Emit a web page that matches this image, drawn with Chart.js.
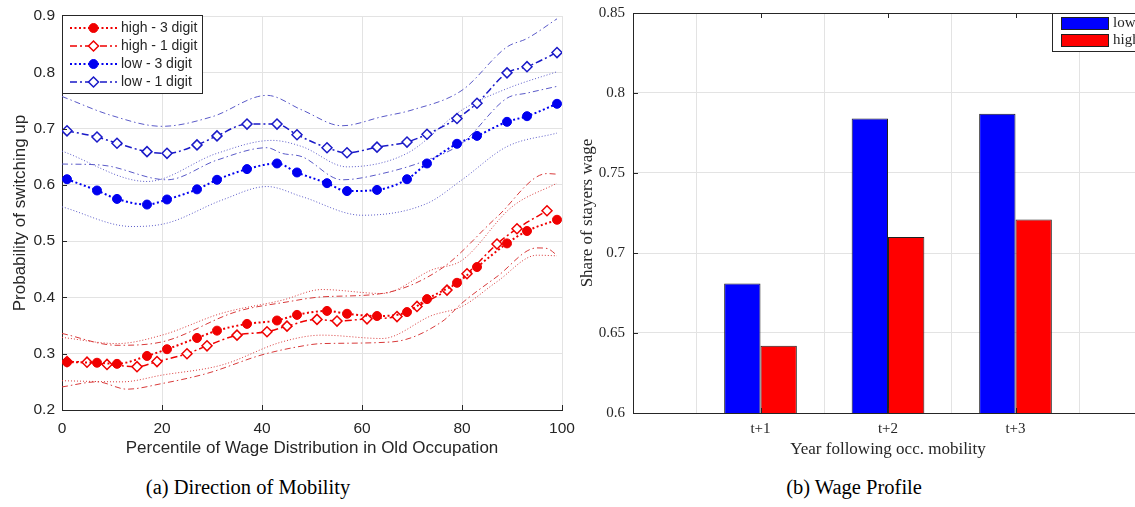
<!DOCTYPE html>
<html>
<head>
<meta charset="utf-8">
<script src="https://cdn.jsdelivr.net/npm/chart.js@4/dist/chart.umd.min.js"></script>
<style>
  html, body { margin: 0; padding: 0; background: #fff; width: 1135px; height: 507px; overflow: hidden; position: relative; }
  #panelA { position: absolute; left: 0; top: 0; }
  #panelB { position: absolute; left: 570px; top: 0; }
  .cap { position: absolute; top: 475px; line-height: 24px; font-family: "Liberation Serif", "Times New Roman", serif;
         font-size: 20.5px; color: #000; white-space: nowrap; transform: translateX(-50%); }
</style>
</head>
<body>
<canvas id="panelA" width="582" height="465"></canvas>
<canvas id="panelB" width="590" height="465"></canvas>
<div class="cap" style="left:248px">(a) Direction of Mobility</div>
<div class="cap" style="left:854px">(b) Wage Profile</div>

<script>
// ---------- Panel (a): probability of switching up by wage percentile ----------
const pctTicks = [0, 20, 40, 60, 80, 100];
const pctTickLabels = ['0', '20', '40', '60', '80', '100'];
const probTicks = [0.2, 0.3, 0.4, 0.5, 0.6, 0.7, 0.8, 0.9];
const probTickLabels = ['0.2', '0.3', '0.4', '0.5', '0.6', '0.7', '0.8', '0.9'];

// point estimates (marker positions)
const pctHigh3 = [1, 7, 11, 17, 21, 27, 31, 37, 43, 47, 53, 57, 63, 69, 73, 79, 83, 89, 93, 99];
const high3 = [0.285, 0.284, 0.282, 0.296, 0.308, 0.328, 0.341, 0.353, 0.359, 0.369, 0.376, 0.371, 0.367, 0.374, 0.397, 0.426, 0.454, 0.496, 0.518, 0.538];
const pctHigh1 = [1, 5, 9, 15, 19, 25, 29, 35, 41, 45, 51, 55, 61, 67, 71, 77, 81, 87, 91, 97];
const high1 = [0.286, 0.285, 0.281, 0.277, 0.286, 0.300, 0.314, 0.333, 0.339, 0.349, 0.361, 0.358, 0.362, 0.366, 0.384, 0.413, 0.442, 0.495, 0.522, 0.554];
const pctLow = [1, 7, 11, 17, 21, 27, 31, 37, 43, 47, 53, 57, 63, 69, 73, 79, 83, 89, 93, 99];
const low3 = [0.610, 0.590, 0.575, 0.565, 0.574, 0.592, 0.609, 0.628, 0.638, 0.622, 0.603, 0.589, 0.591, 0.610, 0.638, 0.673, 0.687, 0.712, 0.722, 0.744];
const low1 = [0.696, 0.685, 0.674, 0.659, 0.656, 0.671, 0.687, 0.708, 0.708, 0.689, 0.666, 0.657, 0.667, 0.676, 0.690, 0.718, 0.745, 0.799, 0.810, 0.835];

// confidence bands
const low1UpX = [0, 10, 20, 30, 41, 48, 56, 64, 70, 80, 89, 93, 99];
const low1Up = [0.757, 0.723, 0.704, 0.721, 0.759, 0.733, 0.705, 0.721, 0.733, 0.768, 0.845, 0.860, 0.895];
const low1LoX = [0, 8, 21, 31, 41, 44, 48, 56, 64, 73, 80, 89, 93, 99];
const low1Lo = [0.637, 0.635, 0.609, 0.644, 0.666, 0.656, 0.650, 0.609, 0.620, 0.644, 0.674, 0.754, 0.763, 0.775];
const low3UpX = [0, 17, 31, 42, 48, 57, 69, 80, 89, 99];
const low3Up = [0.660, 0.606, 0.656, 0.679, 0.668, 0.632, 0.656, 0.733, 0.771, 0.801];
const low3LoX = [0, 14, 21, 32, 41, 48, 60, 73, 80, 89, 99];
const low3Lo = [0.561, 0.526, 0.532, 0.573, 0.597, 0.579, 0.546, 0.567, 0.609, 0.668, 0.692];
const high1UpX = [0, 11, 20, 35, 45, 52, 64, 76, 87, 97, 99];
const high1Up = [0.336, 0.315, 0.321, 0.375, 0.392, 0.401, 0.407, 0.452, 0.543, 0.620, 0.619];
const high1LoX = [0, 7, 13, 20, 29, 40, 47, 52, 66, 76, 80, 87, 95, 97, 99];
const high1Lo = [0.241, 0.250, 0.237, 0.247, 0.265, 0.298, 0.312, 0.318, 0.321, 0.357, 0.390, 0.437, 0.488, 0.487, 0.475];
const high3UpX = [0, 11, 20, 32, 44, 52, 64, 74, 80, 90, 99];
const high3Up = [0.329, 0.318, 0.333, 0.372, 0.395, 0.414, 0.407, 0.449, 0.466, 0.561, 0.603];
const high3LoX = [0, 12, 20, 32, 44, 52, 64, 74, 80, 87, 95, 99];
const high3Lo = [0.252, 0.250, 0.262, 0.280, 0.321, 0.333, 0.327, 0.368, 0.384, 0.428, 0.475, 0.474];

// ---------- Panel (b): wage relative to stayers ----------
const yearLabels = ['t+1', 't+2', 't+3'];
const shareLow = [0.681, 0.784, 0.787];
const shareHigh = [0.642, 0.710, 0.721];
const shareTicks = [0.6, 0.65, 0.7, 0.75, 0.8, 0.85];
const shareTickLabels = ['0.6', '0.65', '0.7', '0.75', '0.8', '0.85'];

// ---------- helpers ----------
const AXIS = '#262626';
const GRID = '#e3e3e3';
const SANS = '"Liberation Sans", Arial, sans-serif';
const SERIF = '"Liberation Serif", "Times New Roman", serif';

const pts = (xs, ys) => xs.map((x, i) => ({ x, y: ys[i] }));

function series(label, xs, ys, st) {
  return Object.assign({ label, data: pts(xs, ys), fill: false, cubicInterpolationMode: 'monotone' }, st);
}
function band(xs, ys, color, dash) {
  return { data: pts(xs, ys), borderColor: color, borderWidth: 1, borderDash: dash, pointRadius: 0,
           fill: false, cubicInterpolationMode: 'monotone' };
}

function marker(ctx, style, x, y, r, fill, stroke, lw) {
  ctx.beginPath();
  if (style === 'circle') ctx.arc(x, y, r, 0, Math.PI * 2);
  else { ctx.moveTo(x - r, y); ctx.lineTo(x, y - r); ctx.lineTo(x + r, y); ctx.lineTo(x, y + r); ctx.closePath(); }
  ctx.fillStyle = fill; ctx.fill();
  ctx.setLineDash([]); ctx.lineWidth = lw; ctx.strokeStyle = stroke; ctx.stroke();
}

// inward tick marks and optional top/right frame lines
const innerTicks = {
  id: 'innerTicks',
  afterDraw(chart, args, o) {
    const { ctx, chartArea: a, scales } = chart;
    const len = o.length || 5;
    ctx.save();
    ctx.strokeStyle = AXIS; ctx.lineWidth = 1; ctx.setLineDash([]);
    const seg = (x1, y1, x2, y2) => { ctx.beginPath(); ctx.moveTo(x1, y1); ctx.lineTo(x2, y2); ctx.stroke(); };
    const xs = scales.x, ys = scales.y;
    xs.ticks.forEach((t, i) => {
      if (o.skipBlank && !xs.getLabelForValue(t.value)) return;
      const p = Math.round(xs.getPixelForTick(i)) + 0.5;
      seg(p, a.bottom, p, a.bottom - len);
      if (o.frame) seg(p, a.top, p, a.top + len);
    });
    ys.ticks.forEach((t, i) => {
      const p = Math.round(ys.getPixelForTick(i)) + 0.5;
      seg(a.left, p, a.left + len, p);
      if (o.frame) seg(a.right, p, a.right - len, p);
    });
    if (o.frame) {
      seg(a.left, Math.round(a.top) + 0.5, a.right, Math.round(a.top) + 0.5);
      seg(Math.round(a.right) + 0.5, a.top, Math.round(a.right) + 0.5, a.bottom);
    }
    ctx.restore();
  }
};

// legend boxes drawn inside the plot area
const boxLegend = {
  id: 'boxLegend',
  afterDraw(chart, args, o) {
    const { ctx, chartArea: a } = chart;
    const items = chart.data.datasets.filter(d => d.label);
    const bx = o.anchor === 'right' ? a.right - o.offsetX : a.left + o.offsetX;
    const by = a.top + o.offsetY;
    ctx.save();
    ctx.fillStyle = '#fff';
    ctx.fillRect(bx, by, o.width, o.height);
    ctx.strokeStyle = AXIS; ctx.lineWidth = 1; ctx.setLineDash([]);
    ctx.strokeRect(Math.round(bx) + 0.5, Math.round(by) + 0.5, o.width, o.height);
    ctx.font = o.font;
    ctx.textBaseline = 'middle';
    ctx.textAlign = 'left';
    items.forEach((d, i) => {
      const y = by + o.firstRow + i * o.rowGap;
      const x0 = bx + o.sampleX, x1 = x0 + o.sampleW;
      if (o.kind === 'bar') {
        ctx.fillStyle = d.backgroundColor;
        ctx.fillRect(x0, y - 6, o.sampleW, 12);
        ctx.strokeStyle = d.borderColor; ctx.lineWidth = 1;
        ctx.strokeRect(x0 + 0.5, y - 6 + 0.5, o.sampleW, 12);
      } else {
        ctx.strokeStyle = d.borderColor; ctx.lineWidth = d.borderWidth;
        ctx.setLineDash(d.borderDash || []);
        ctx.beginPath(); ctx.moveTo(x0, y); ctx.lineTo(x1, y); ctx.stroke();
        marker(ctx, d.pointStyle === 'rectRot' ? 'diamond' : 'circle', (x0 + x1) / 2, y,
               d.pointRadius, d.pointBackgroundColor, d.pointBorderColor, d.pointBorderWidth || 1);
      }
      ctx.fillStyle = AXIS;
      ctx.fillText(d.label, x1 + o.textGap, y + 0.5);
    });
    ctx.restore();
  }
};

const fixTicks = (values) => (scale) => { scale.ticks = values.map(v => ({ value: v })); };
// fixed axis band sizes; no extra room reserved for overhanging end labels
const fixHeight = (h) => (s) => { s.height = h; s.paddingLeft = 0; s.paddingRight = 0; };
const fixWidth = (w) => (s) => { s.width = w; s.paddingTop = 0; s.paddingBottom = 0; };

// ---------- chart (a) ----------
const RED = '#f00000', RED_L = '#d83a3a';
const BLUE = '#0000f0', BLUE_D = '#1a1ac8', BLUE_L = '#5a5ac8';

new Chart(document.getElementById('panelA'), {
  type: 'line',
  data: {
    datasets: [
      series('high - 3 digit', pctHigh3, high3, { borderColor: RED, borderWidth: 2, borderDash: [2, 2.5],
        pointStyle: 'circle', pointRadius: 4.5, pointBackgroundColor: RED, pointBorderColor: RED, pointBorderWidth: 1 }),
      series('high - 1 digit', pctHigh1, high1, { borderColor: RED, borderWidth: 1.5, borderDash: [7, 3, 2, 3],
        pointStyle: 'rectRot', pointRadius: 5, pointBackgroundColor: '#fff', pointBorderColor: RED, pointBorderWidth: 1.5 }),
      series('low - 3 digit', pctLow, low3, { borderColor: BLUE, borderWidth: 2, borderDash: [2, 2.5],
        pointStyle: 'circle', pointRadius: 4.5, pointBackgroundColor: BLUE, pointBorderColor: BLUE, pointBorderWidth: 1 }),
      series('low - 1 digit', pctLow, low1, { borderColor: BLUE_D, borderWidth: 1.5, borderDash: [7, 3, 2, 3],
        pointStyle: 'rectRot', pointRadius: 5, pointBackgroundColor: '#fff', pointBorderColor: BLUE_D, pointBorderWidth: 1.5 }),
      band(low1UpX, low1Up, BLUE_L, [6, 3, 1.5, 3]),
      band(low1LoX, low1Lo, BLUE_L, [6, 3, 1.5, 3]),
      band(low3UpX, low3Up, BLUE_L, [1, 2]),
      band(low3LoX, low3Lo, BLUE_L, [1, 2]),
      band(high1UpX, high1Up, RED_L, [6, 3, 1.5, 3]),
      band(high1LoX, high1Lo, RED_L, [6, 3, 1.5, 3]),
      band(high3UpX, high3Up, RED_L, [1, 2]),
      band(high3LoX, high3Lo, RED_L, [1, 2])
    ]
  },
  options: {
    responsive: false, animation: false, events: [],
    layout: { padding: { top: 16, right: 20, left: 0, bottom: 0 } },
    plugins: {
      legend: { display: false }, tooltip: { enabled: false },
      innerTicks: { length: 5 },
      boxLegend: { anchor: 'left', offsetX: 0, offsetY: -1, width: 140, height: 78, firstRow: 13, rowGap: 18,
                   sampleX: 8, sampleW: 47, textGap: 4, font: '14px ' + SANS }
    },
    scales: {
      x: {
        type: 'linear', min: 0, max: 100,
        afterBuildTicks: fixTicks(pctTicks),
        afterFit: fixHeight(55),
        grid: { color: GRID, drawTicks: false },
        border: { color: AXIS, width: 1 },
        ticks: { padding: 9, color: AXIS, font: { family: SANS, size: 15.5 }, maxRotation: 0,
                 callback: (v, i) => pctTickLabels[i] },
        title: { display: true, text: 'Percentile of Wage Distribution in Old Occupation', color: AXIS,
                 font: { family: SANS, size: 17 }, padding: { top: 0, bottom: 6 } }
      },
      y: {
        type: 'linear', min: 0.2, max: 0.9,
        afterBuildTicks: fixTicks(probTicks),
        afterFit: fixWidth(62),
        grid: { color: GRID, drawTicks: false },
        border: { color: AXIS, width: 1 },
        ticks: { padding: 7, color: AXIS, font: { family: SANS, size: 15.5 },
                 callback: (v, i) => probTickLabels[i] },
        title: { display: true, text: 'Probability of switching up', color: AXIS,
                 font: { family: SANS, size: 17 }, padding: { top: 10, bottom: 0 } }
      }
    }
  },
  plugins: [innerTicks, boxLegend]
});

// ---------- chart (b) ----------
// blank categories at both ends give the axis room around the three groups
const paddedLabels = [''].concat(yearLabels, ['']);
const padded = (vals) => [null].concat(vals, [null]);

new Chart(document.getElementById('panelB'), {
  type: 'bar',
  data: {
    labels: paddedLabels,
    datasets: [
      { label: 'low', data: padded(shareLow), backgroundColor: '#0000ff', borderColor: '#202020', borderWidth: 1,
        borderSkipped: false, categoryPercentage: 0.57, barPercentage: 1 },
      { label: 'high', data: padded(shareHigh), backgroundColor: '#ff0000', borderColor: '#202020', borderWidth: 1,
        borderSkipped: false, categoryPercentage: 0.57, barPercentage: 1 }
    ]
  },
  options: {
    responsive: false, animation: false, events: [],
    layout: { padding: { top: 13, right: 17, left: 0, bottom: 0 } },
    plugins: {
      legend: { display: false }, tooltip: { enabled: false },
      innerTicks: { length: 5, frame: true, skipBlank: true },
      boxLegend: { kind: 'bar', anchor: 'right', offsetX: 91, offsetY: 0, width: 95, height: 38, firstRow: 10, rowGap: 17,
                   sampleX: 9, sampleW: 47, textGap: 5, font: '15px ' + SERIF }
    },
    scales: {
      x: {
        type: 'category', offset: false,
        afterFit: fixHeight(52),
        grid: { color: GRID, drawTicks: false },
        border: { color: AXIS, width: 1 },
        ticks: { padding: 7, color: AXIS, font: { family: SERIF, size: 15 }, maxRotation: 0, autoSkip: false },
        title: { display: true, text: 'Year following occ. mobility', color: AXIS,
                 font: { family: SERIF, size: 17 }, padding: { top: 0, bottom: 5 } }
      },
      y: {
        type: 'linear', min: 0.6, max: 0.85,
        afterBuildTicks: fixTicks(shareTicks),
        afterFit: fixWidth(63),
        grid: { color: GRID, drawTicks: false },
        border: { color: AXIS, width: 1 },
        ticks: { padding: 8, color: AXIS, font: { family: SERIF, size: 15 },
                 callback: (v, i) => shareTickLabels[i] },
        title: { display: true, text: 'Share of stayers wage', color: AXIS,
                 font: { family: SERIF, size: 17 }, padding: { top: 7, bottom: 0 } }
      }
    }
  },
  plugins: [innerTicks, boxLegend]
});
</script>
</body>
</html>
